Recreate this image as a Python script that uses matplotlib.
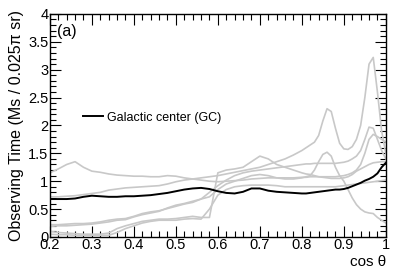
import matplotlib
matplotlib.use("Agg")
import matplotlib.pyplot as plt
from matplotlib.ticker import MultipleLocator, FuncFormatter

plt.rcParams['font.family'] = ['Liberation Sans', 'DejaVu Sans']

cos_theta = [0.20, 0.22, 0.24, 0.26, 0.28, 0.30, 0.32, 0.34, 0.36, 0.38,
             0.40, 0.42, 0.44, 0.46, 0.48, 0.50, 0.52, 0.54, 0.56, 0.58,
             0.60, 0.62, 0.64, 0.66, 0.68, 0.70, 0.72, 0.74, 0.76, 0.78,
             0.80, 0.81, 0.82, 0.83, 0.84, 0.85, 0.86, 0.87, 0.88, 0.89,
             0.90, 0.91, 0.92, 0.93, 0.94, 0.95, 0.96, 0.97, 0.98, 0.99, 1.00]

gc_time = [0.68, 0.68, 0.68, 0.69, 0.72, 0.74, 0.73, 0.72, 0.72, 0.73,
           0.73, 0.74, 0.75, 0.77, 0.79, 0.82, 0.85, 0.87, 0.88, 0.86,
           0.82, 0.79, 0.78, 0.81, 0.87, 0.87, 0.83, 0.81, 0.80, 0.79,
           0.78, 0.78, 0.79, 0.80, 0.81, 0.82, 0.83, 0.84, 0.85, 0.85,
           0.86, 0.88, 0.91, 0.94, 0.97, 1.01, 1.04, 1.08, 1.14, 1.25, 1.33]

other_a = [1.15, 1.22, 1.30, 1.35, 1.25, 1.18, 1.16, 1.13, 1.11, 1.10,
           1.09, 1.09, 1.08, 1.08, 1.10, 1.09, 1.06, 1.04, 1.02, 1.00,
           0.99, 1.00, 1.01, 1.02, 1.04, 1.05, 1.06, 1.06, 1.06, 1.06,
           1.07, 1.07, 1.08, 1.08, 1.08, 1.08, 1.08, 1.08, 1.08, 1.09,
           1.10, 1.12, 1.15, 1.20, 1.30, 1.50, 1.75, 1.84, 1.80, 1.75, 1.70]

other_b = [0.72, 0.72, 0.73, 0.74, 0.76, 0.78, 0.80, 0.84, 0.86, 0.88,
           0.89, 0.90, 0.91, 0.92, 0.95, 0.99, 1.02, 1.04, 1.06, 1.08,
           1.10, 1.13, 1.16, 1.19, 1.22, 1.25, 1.30, 1.35, 1.40, 1.47,
           1.55, 1.60, 1.65, 1.70, 1.82, 2.08, 2.30, 2.25, 1.95, 1.68,
           1.58, 1.57, 1.62, 1.75, 2.00, 2.50, 3.10, 3.22, 2.60, 1.90, 1.50]

other_c = [0.22, 0.22, 0.23, 0.24, 0.24, 0.25, 0.27, 0.30, 0.32, 0.33,
           0.37, 0.42, 0.45, 0.47, 0.51, 0.55, 0.59, 0.62, 0.68, 0.72,
           0.85, 0.95, 1.00, 1.05, 1.10, 1.12, 1.10, 1.06, 1.04, 1.04,
           1.06, 1.08, 1.10, 1.20, 1.35, 1.48, 1.52, 1.45, 1.25, 1.10,
           1.00, 0.85, 0.70, 0.58, 0.50, 0.45, 0.43, 0.42, 0.35, 0.30, 0.25]

other_d = [0.19, 0.20, 0.20, 0.21, 0.22, 0.23, 0.25, 0.27, 0.30, 0.31,
           0.36, 0.40, 0.43, 0.46, 0.52, 0.57, 0.60, 0.64, 0.68, 0.80,
           0.92, 1.02, 1.10, 1.15, 1.18, 1.20, 1.22, 1.24, 1.26, 1.28,
           1.30, 1.31, 1.31, 1.32, 1.32, 1.32, 1.32, 1.32, 1.32, 1.33,
           1.34, 1.36, 1.40, 1.45, 1.55, 1.75, 1.97, 1.95, 1.75, 1.55, 1.40]

other_e = [0.10, 0.08, 0.07, 0.06, 0.05, 0.05, 0.05, 0.07, 0.15, 0.20,
           0.24, 0.28, 0.30, 0.32, 0.32, 0.33, 0.35, 0.37, 0.35, 0.35,
           1.15, 1.20, 1.22, 1.25, 1.35, 1.45, 1.40, 1.30, 1.25, 1.20,
           1.15, 1.13, 1.12, 1.10, 1.08, 1.07, 1.06, 1.05, 1.05, 1.05,
           1.06, 1.08, 1.12, 1.18, 1.22, 1.26, 1.30, 1.33, 1.34, 1.35, 1.35]

other_f = [0.05, 0.04, 0.04, 0.03, 0.03, 0.03, 0.03, 0.03, 0.08, 0.15,
           0.20, 0.25, 0.28, 0.30, 0.30, 0.30, 0.32, 0.33, 0.32, 0.50,
           0.75, 0.85, 0.90, 0.92, 0.93, 0.93, 0.93, 0.92, 0.90, 0.90,
           0.90, 0.90, 0.90, 0.90, 0.90, 0.90, 0.90, 0.90, 0.90, 0.91,
           0.92, 0.93, 0.94, 0.95, 0.96, 0.97, 0.98, 0.99, 1.00, 1.01, 1.02]

others = [other_a, other_b, other_c, other_d, other_e, other_f]

fig = plt.figure(figsize=(3.99, 2.73), dpi=100)
ax = fig.add_axes([0.125, 0.132, 0.842, 0.817])

for series in others:
    ax.plot(cos_theta, series, color='#c8c8c8', lw=1.2)
ax.plot(cos_theta, gc_time, color='black', lw=1.4, label='Galactic center (GC)')

ax.set_xlim(0.2, 1.0)
ax.set_ylim(0, 4)
ax.xaxis.set_major_locator(MultipleLocator(0.1))
ax.xaxis.set_minor_locator(MultipleLocator(0.02))
ax.yaxis.set_major_locator(MultipleLocator(0.5))
ax.yaxis.set_minor_locator(MultipleLocator(0.1))
fmt = FuncFormatter(lambda v, p: '%g' % round(v, 3))
ax.xaxis.set_major_formatter(fmt)
ax.yaxis.set_major_formatter(fmt)
ax.tick_params(which='both', direction='in', top=True, right=True, labelsize=10.5, width=0.8)
ax.tick_params(axis='x', pad=1)
ax.tick_params(axis='y', pad=1)
ax.tick_params(which='major', length=8)
ax.tick_params(which='minor', length=4)
for s in ax.spines.values():
    s.set_linewidth(1.0)

ax.set_ylabel('Observing Time (Ms / 0.025π sr)', fontsize=11.5, labelpad=3)
fig.text(386 / 399, 1 - 262 / 273, 'cos θ', fontsize=11, ha='right', va='center')

ax.text(0.022, 0.955, '(a)', transform=ax.transAxes, fontsize=11.5, va='top', ha='left')
ax.legend(loc='center left', bbox_to_anchor=(0.098, 0.535), frameon=False, fontsize=9,
          handlelength=1.6, handletextpad=0.32, borderaxespad=0, borderpad=0)

fig.savefig('out.png', dpi=100)
